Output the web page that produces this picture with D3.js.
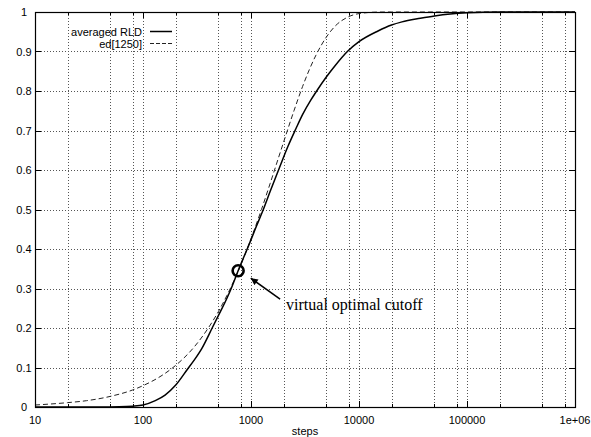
<!DOCTYPE html>
<html>
<head>
<meta charset="utf-8">
<script src="https://cdn.jsdelivr.net/npm/d3@7"></script>
<style>
  body { margin: 0; background: #fff; }
  text { font-family: "Liberation Sans", Arial, Helvetica, sans-serif; }
</style>
</head>
<body>
<svg id="chart" width="591" height="437"></svg>
<script>
// Tick positions and labels
const xTicks = [10, 100, 1000, 10000, 100000, 1000000];
const xTickLabels = ["10", "100", "1000", "10000", "100000", "1e+06"];
const xMinorTicks = [20, 50, 80, 200, 500, 800, 2000, 5000, 8000,
                     20000, 50000, 80000, 200000, 500000, 800000];
const yTicks = [0, 0.1, 0.2, 0.3, 0.4, 0.5, 0.6, 0.7, 0.8, 0.9, 1];
const yTickLabels = ["0", "0.1", "0.2", "0.3", "0.4", "0.5", "0.6", "0.7", "0.8", "0.9", "1"];

// Series: averaged run-length distribution
const rldSteps  = [10, 40, 60, 80, 100, 130, 160, 200, 260, 300, 350, 437, 500, 600, 660, 760, 850,
                   965, 1100, 1300, 1500, 1830, 2200, 2610, 3000, 3600, 4055, 5000, 6000, 7800, 10000,
                   15000, 20000, 25000, 37000, 50000, 70000, 100000, 200000, 1000000];
const rldValues = [0, 0, 0.0005, 0.002, 0.005, 0.016, 0.030, 0.055, 0.097, 0.120, 0.148, 0.200, 0.232, 0.276, 0.302, 0.345, 0.377,
                   0.413, 0.452, 0.500, 0.545, 0.605, 0.660, 0.705, 0.740, 0.778, 0.800, 0.836, 0.864, 0.900, 0.925,
                   0.952, 0.967, 0.975, 0.984, 0.990, 0.995, 0.998, 1.0, 1.0];

// Series: exponential distribution ed[1250]
const edSteps  = [10, 20, 30, 50, 80, 100, 150, 200, 300, 400, 500, 600, 800, 1000, 1250,
                  1500, 2000, 2500, 3000, 4000, 5000, 6000, 8000, 10000, 15000, 20000, 1000000];
const edValues = [0.005, 0.011, 0.016, 0.027, 0.043, 0.054, 0.080, 0.105, 0.153, 0.199, 0.242, 0.283, 0.358, 0.426, 0.500,
                  0.565, 0.670, 0.750, 0.811, 0.891, 0.937, 0.964, 0.988, 0.996, 0.9998, 1.0, 1.0];

const seriesNames = ["averaged RLD", "ed[1250]"];
const axisTitle = "steps";

// Annotation: circled crossing point with an arrow and caption
const cutoffPoint = [760, 0.345];
const arrowFrom = [1860, 0.273];
const arrowTo = [995, 0.326];
const cutoffCaption = "virtual optimal cutoff";

const svg = d3.select("#chart");
const plotLeft = 35, plotRight = 575, plotTop = 12, plotBottom = 407;

const x = d3.scaleLog().domain([10, 1000000]).range([plotLeft, plotRight]);
const y = d3.scaleLinear().domain([0, 1]).range([plotBottom, plotTop]);

// Grid
const grid = svg.append("g")
  .attr("stroke", "#555").attr("stroke-width", 1)
  .attr("stroke-dasharray", "1,2").attr("shape-rendering", "crispEdges");
grid.selectAll("line.gy").data(yTicks.slice(1, -1)).join("line")
  .attr("x1", plotLeft).attr("x2", plotRight)
  .attr("y1", d => Math.round(y(d)) + 0.5).attr("y2", d => Math.round(y(d)) + 0.5);
grid.selectAll("line.gx").data(xTicks.slice(1, -1).concat(xMinorTicks)).join("line")
  .attr("y1", plotTop).attr("y2", plotBottom)
  .attr("x1", d => Math.round(x(d)) + 0.5).attr("x2", d => Math.round(x(d)) + 0.5);

// Tick marks (inward, on all four sides)
const ticks = svg.append("g").attr("stroke", "#000").attr("stroke-width", 1)
  .attr("shape-rendering", "crispEdges");
yTicks.forEach(v => {
  const py = Math.round(y(v)) + 0.5;
  ticks.append("line").attr("x1", plotLeft).attr("x2", plotLeft + 6).attr("y1", py).attr("y2", py);
  ticks.append("line").attr("x1", plotRight - 6).attr("x2", plotRight).attr("y1", py).attr("y2", py);
});
xTicks.forEach(v => {
  const px = Math.round(x(v)) + 0.5;
  ticks.append("line").attr("x1", px).attr("x2", px).attr("y1", plotBottom).attr("y2", plotBottom - 6);
  ticks.append("line").attr("x1", px).attr("x2", px).attr("y1", plotTop).attr("y2", plotTop + 6);
});
xMinorTicks.forEach(v => {
  const px = Math.round(x(v)) + 0.5;
  ticks.append("line").attr("x1", px).attr("x2", px).attr("y1", plotBottom).attr("y2", plotBottom - 3);
  ticks.append("line").attr("x1", px).attr("x2", px).attr("y1", plotTop).attr("y2", plotTop + 3);
});

// Tick labels
svg.append("g").selectAll("text").data(yTicks).join("text")
  .attr("x", 24).attr("y", d => y(d) + 4)
  .attr("text-anchor", "middle").attr("font-size", 11)
  .text((d, i) => yTickLabels[i]);
svg.append("g").selectAll("text").data(xTicks).join("text")
  .attr("x", d => x(d)).attr("y", 424)
  .attr("text-anchor", "middle").attr("font-size", 11)
  .text((d, i) => xTickLabels[i]);
svg.append("text").attr("x", (plotLeft + plotRight) / 2).attr("y", 435)
  .attr("text-anchor", "middle").attr("font-size", 11).text(axisTitle);

// Curves
const line = d3.line().x(d => x(d[0])).y(d => y(d[1])).curve(d3.curveMonotoneX);
svg.append("path")
  .datum(edSteps.map((s, i) => [s, edValues[i]]))
  .attr("d", line).attr("fill", "none")
  .attr("stroke", "#222").attr("stroke-width", 1).attr("stroke-dasharray", "5,3");
svg.append("path")
  .datum(rldSteps.map((s, i) => [s, rldValues[i]]))
  .attr("d", line).attr("fill", "none")
  .attr("stroke", "#000").attr("stroke-width", 1.5);

// Frame
svg.append("rect").attr("x", plotLeft + 0.5).attr("y", plotTop + 0.5)
  .attr("width", plotRight - plotLeft).attr("height", plotBottom - plotTop)
  .attr("fill", "none").attr("stroke", "#000").attr("stroke-width", 1.2);

// Legend
const legend = svg.append("g");
seriesNames.forEach((name, i) => {
  const ly = 31.5 + i * 12;
  legend.append("text").attr("x", 142).attr("y", ly + 4)
    .attr("text-anchor", "end").attr("font-size", 11).text(name);
  legend.append("line").attr("x1", 150).attr("x2", 172).attr("y1", ly).attr("y2", ly)
    .attr("stroke", i === 0 ? "#000" : "#222").attr("stroke-width", i === 0 ? 1.5 : 1)
    .attr("stroke-dasharray", i === 0 ? null : "4,2");
});

// Annotation
svg.append("defs").append("marker")
  .attr("id", "arrowhead").attr("viewBox", "0 0 10 10")
  .attr("refX", 10).attr("refY", 5)
  .attr("markerWidth", 9).attr("markerHeight", 7)
  .attr("markerUnits", "userSpaceOnUse").attr("orient", "auto")
  .append("path").attr("d", "M0,0 L10,5 L0,10 Z").attr("fill", "#000");
svg.append("circle")
  .attr("cx", x(cutoffPoint[0])).attr("cy", y(cutoffPoint[1])).attr("r", 5.5)
  .attr("fill", "none").attr("stroke", "#000").attr("stroke-width", 2.6);
svg.append("line")
  .attr("x1", x(arrowFrom[0])).attr("y1", y(arrowFrom[1]))
  .attr("x2", x(arrowTo[0])).attr("y2", y(arrowTo[1]))
  .attr("stroke", "#000").attr("stroke-width", 1.5)
  .attr("marker-end", "url(#arrowhead)");
svg.append("text")
  .attr("x", x(arrowFrom[0]) + 6).attr("y", y(arrowFrom[1]) + 11)
  .style("font-family", "'Liberation Serif', 'Times New Roman', serif")
  .attr("font-size", 16).text(cutoffCaption);
</script>
</body>
</html>
